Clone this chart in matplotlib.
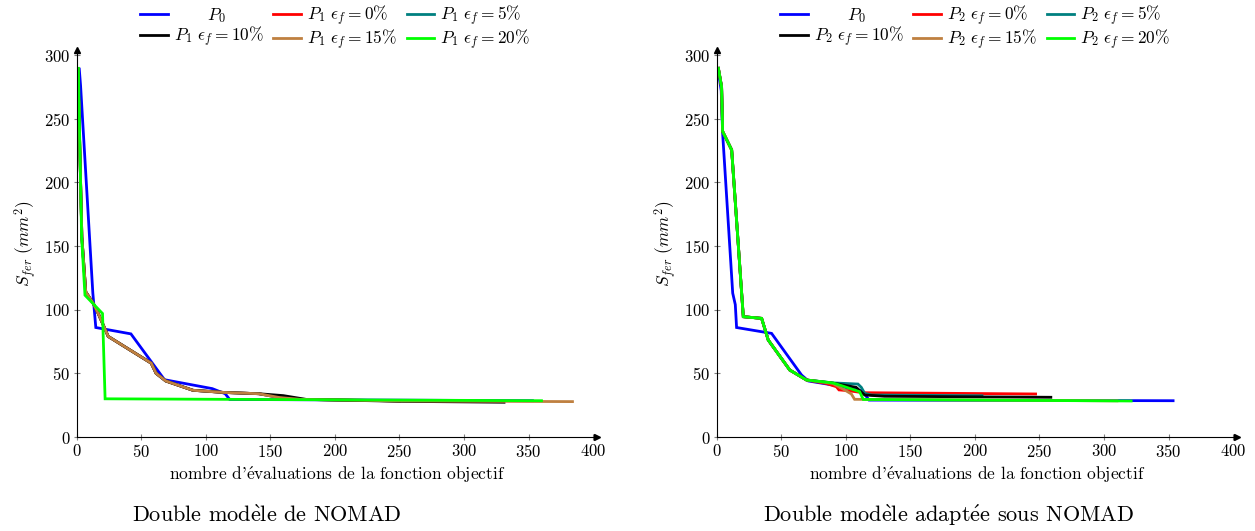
import matplotlib
matplotlib.use('Agg')
import matplotlib.pyplot as plt

plt.rcParams['font.family'] = ['cmr10', 'DejaVu Serif']
plt.rcParams['mathtext.fontset'] = 'cm'
plt.rcParams['axes.formatter.use_mathtext'] = True

# ---------------- data: left chart (P1) ----------------
L_p0_x = [2, 3, 12.5, 14.8, 42, 68, 105, 115, 118.5, 353]
L_p0_y = [289, 276, 113, 86, 81, 45, 38, 34, 29.5, 28.5]

L_e0_x = [1, 4, 7, 12.8, 16.7, 24.4, 57.7, 61.5, 69, 90, 114, 141, 157, 173, 250]
L_e0_y = [289, 157, 114, 105, 97, 79, 58, 50, 44, 36.7, 35, 34, 31, 29.6, 28.3]

L_e5_x = [1, 4, 7, 12.8, 16.7, 24.4, 57.7, 61.5, 69, 90, 114, 141, 157, 173, 253, 300]
L_e5_y = [289, 157, 114, 105, 97, 79, 58, 50, 44, 36.7, 35, 34, 31, 29.6, 28.3, 28.1]

L_e10_x = [1, 4, 7, 12.8, 16.7, 24.4, 57.7, 61.5, 69, 90, 114, 141, 160, 178, 253, 331]
L_e10_y = [289, 157, 114, 105, 97, 79, 58, 50, 44, 36.7, 35, 34, 32.5, 29.5, 28.0, 27.3]

L_e15_x = [1, 4, 7, 12.8, 16.7, 24.4, 57.7, 61.5, 69, 90, 114, 141, 157, 173, 253, 384]
L_e15_y = [289, 157, 114, 105, 97, 79, 58, 50, 44, 36.7, 35, 34, 31, 29.6, 28.3, 27.8]

L_e20_x = [1.3, 3.8, 6.4, 20, 22, 360]
L_e20_y = [289.6, 157, 111.4, 97, 30, 28.5]

# ---------------- data: right chart (P2) ----------------
R_p0_x = [1, 3.5, 4.6, 12.4, 14.4, 15.4, 42.5, 65.7, 71, 95, 113, 118, 353.5]
R_p0_y = [289, 272, 238.5, 113, 104, 86, 81.4, 48.7, 44, 40, 36, 29, 28.5]

R_e0_x = [1.3, 3.8, 4.6, 11.6, 20.6, 34.8, 39.9, 56.6, 69.5, 85, 92.7, 94.7, 101.7, 113.3, 247]
R_e0_y = [289.6, 275, 240, 225.5, 94.5, 93.2, 76.2, 52.6, 44.8, 42, 39.5, 37, 36.4, 34.8, 33.8]

R_e5_x = [1.3, 3.8, 4.6, 11.6, 20.6, 34.8, 39.9, 56.6, 69.5, 90, 109.4, 112, 114.6, 120, 205.5]
R_e5_y = [289.6, 275, 240, 225.5, 94.5, 93.2, 76.2, 52.6, 44.8, 42.5, 41.6, 39, 34.3, 33, 32.4]

R_e10_x = [1.3, 3.8, 4.6, 11.6, 20.6, 34.8, 39.9, 56.6, 69.5, 90, 108, 114.6, 130, 258.8]
R_e10_y = [289.6, 275, 240, 225.5, 94.5, 93.2, 76.2, 52.6, 44.8, 42.3, 39, 33, 32, 31.2]

R_e15_x = [1.3, 3.8, 4.6, 11.6, 20.6, 34.8, 39.9, 56.6, 69.5, 90, 99, 104.3, 106.8, 310]
R_e15_y = [289.6, 275, 240, 225.5, 94.5, 93.2, 76.2, 52.6, 44.8, 42, 37, 33.8, 29.6, 28.4]

R_e20_x = [1.3, 3.8, 4.6, 11.6, 20.6, 34.8, 39.9, 56.6, 69.5, 90, 95.3, 110.7, 113.5, 321]
R_e20_y = [289.6, 275, 240, 225.5, 94.5, 93.2, 76.2, 52.6, 44.8, 42.5, 40.8, 35.6, 29.5, 28.3]

x_ticks = [0, 50, 100, 150, 200, 250, 300, 350, 400]
y_ticks = [0, 50, 100, 150, 200, 250, 300]

colors = ['#0000FF', '#FF0000', '#008080', '#000000', '#BF8040', '#00FF00']
eps_labels = ['0', '5', '10', '15', '20']

# accented letters rendered via mathtext (Computer Modern roman)
xlabel = r"nombre d'$\mathrm{\acute{e}}$valuations de la fonction objectif"
ylabel = r'$S_{fer}\ (mm^2)$'
titles = [r'Double mod$\mathrm{\grave{e}}$le de NOMAD',
          r'Double mod$\mathrm{\grave{e}}$le adapt$\mathrm{\acute{e}}$e sous NOMAD']

fig = plt.figure(figsize=(12.55, 5.31), dpi=100)
W, H = 1255.0, 531.0


def make_axes(x0):
    return fig.add_axes([x0 / W, (H - 437) / H, 520.3 / W, 387 / H])


def style(ax, pidx, series, x0):
    lines = []
    labels = [r'$\qquad\,P_0$'] + [r'$P_%d\ \epsilon_f = %s\%%$' % (pidx, e) for e in eps_labels]
    for (xs, ys), c, lab in zip(series, colors, labels):
        ln, = ax.plot(xs, ys, color=c, lw=2.0, solid_joinstyle='miter', label=lab)
        lines.append(ln)
    ax.set_xlim(0, 403)
    ax.set_ylim(0, 304)
    ax.set_xticks(x_ticks)
    ax.set_yticks(y_ticks)
    for s in ['top', 'right']:
        ax.spines[s].set_visible(False)
    for s in ['left', 'bottom']:
        ax.spines[s].set_color('black')
        ax.spines[s].set_linewidth(0.8)
    ax.tick_params(direction='inout', length=5, width=0.8, color='#808080',
                   labelsize=12, pad=2)
    ax.plot(1, 0, '>k', ms=4, transform=ax.transAxes, clip_on=False)
    ax.plot(0, 1, '^k', ms=4, transform=ax.transAxes, clip_on=False)
    ax.set_xlabel(xlabel, fontsize=12.5)
    ax.xaxis.set_label_coords(0.5, -0.07)
    ax.set_ylabel(ylabel, fontsize=12.5)
    ax.yaxis.set_label_coords(-0.072, 0.5)
    order = [0, 3, 1, 4, 2, 5]
    cx = (x0 + 258.5) / W
    ax.legend([lines[i] for i in order], [labels[i] for i in order], ncol=3,
              loc='upper center', bbox_to_anchor=(cx, 1 - 3.5 / H),
              bbox_transform=fig.transFigure, frameon=False, borderpad=0.0,
              fontsize=12.5, handlelength=1.6, handletextpad=0.35,
              columnspacing=0.55, labelspacing=0.0, borderaxespad=0.0)


axL = make_axes(76.7)
style(axL, 1, [(L_p0_x, L_p0_y), (L_e0_x, L_e0_y), (L_e5_x, L_e5_y),
               (L_e10_x, L_e10_y), (L_e15_x, L_e15_y), (L_e20_x, L_e20_y)], 76.7)
axR = make_axes(716.7)
style(axR, 2, [(R_p0_x, R_p0_y), (R_e0_x, R_e0_y), (R_e5_x, R_e5_y),
               (R_e10_x, R_e10_y), (R_e15_x, R_e15_y), (R_e20_x, R_e20_y)], 716.7)

fig.text(267 / W, 1 - 515 / H, titles[0], ha='center', va='center', fontsize=16)
fig.text(949 / W, 1 - 515 / H, titles[1], ha='center', va='center', fontsize=16)

fig.savefig('out.png', dpi=100)
